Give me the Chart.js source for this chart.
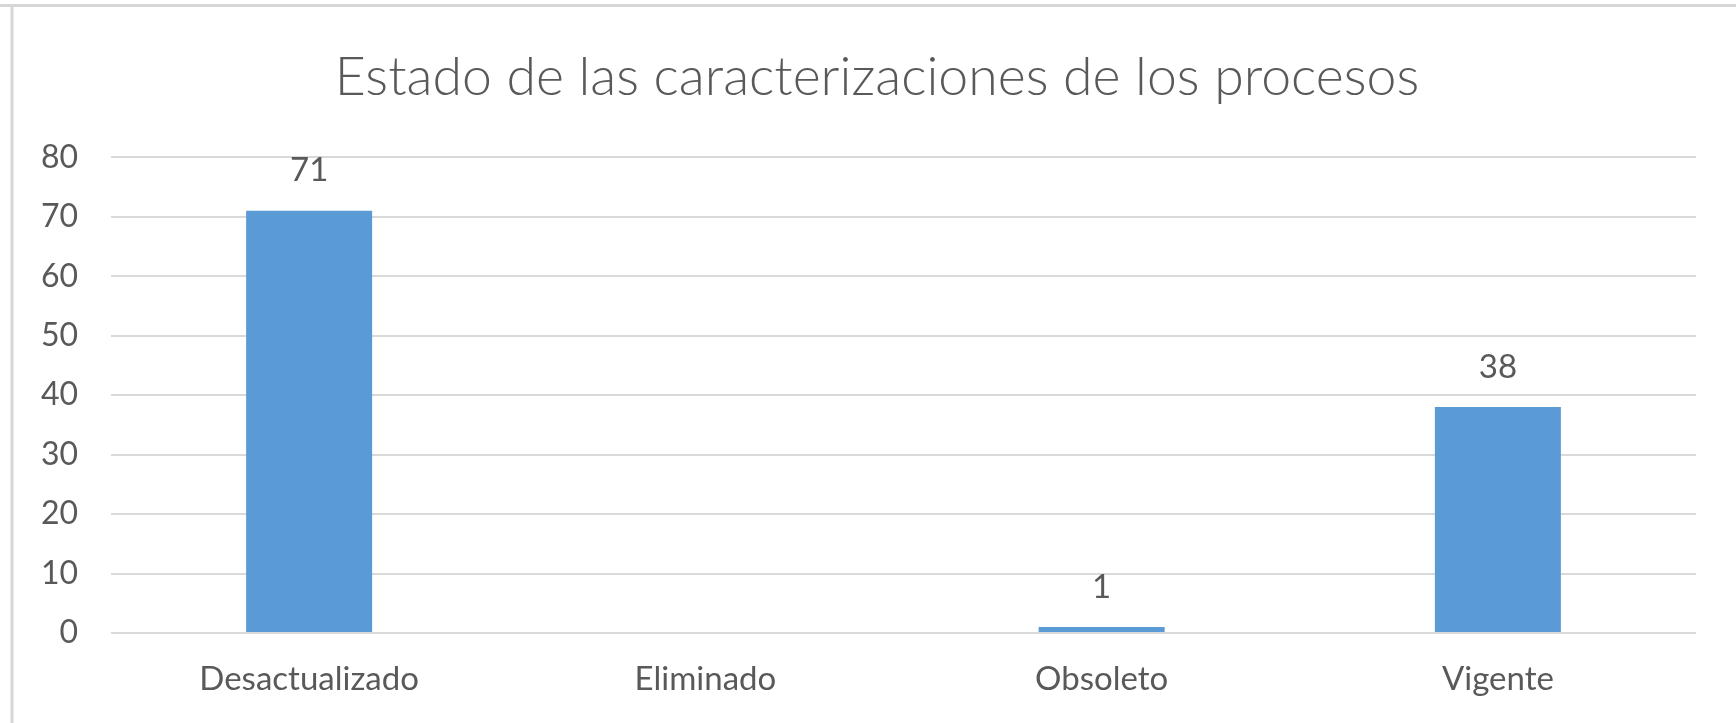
<!DOCTYPE html>
<html>
<head>
<meta charset="utf-8">
<script src="https://cdn.jsdelivr.net/npm/chart.js@4/dist/chart.umd.min.js"></script>
<style>
  html, body { margin: 0; padding: 0; background: #ffffff; }
  #wrap { width: 1736px; height: 723px; position: relative; }
</style>
</head>
<body>
<div id="wrap"><canvas id="c" width="1736" height="723"></canvas></div>
<script>
const categories = ["Desactualizado", "Eliminado", "Obsoleto", "Vigente"];
const values = [71, 0, 1, 38];
const yTicks = [0, 10, 20, 30, 40, 50, 60, 70, 80];
const titleText = "Estado de las caracterizaciones de los procesos";

const FONT = "Lato, 'Open Sans', sans-serif";
const TEXT = "#595959";

const frame = {
  id: 'frame',
  beforeDraw(chart) {
    const ctx = chart.ctx;
    ctx.save();
    ctx.fillStyle = '#ffffff';
    ctx.fillRect(0, 0, chart.width, chart.height);
    ctx.strokeStyle = '#d6d6d6';
    ctx.lineWidth = 3;
    ctx.beginPath();
    ctx.moveTo(0, 5.5); ctx.lineTo(chart.width, 5.5);
    ctx.moveTo(12, 5.5); ctx.lineTo(12, chart.height);
    ctx.stroke();
    ctx.restore();
  }
};

const valueLabels = {
  id: 'valueLabels',
  afterDatasetsDraw(chart) {
    const ctx = chart.ctx;
    const meta = chart.getDatasetMeta(0);
    ctx.save();
    ctx.fillStyle = TEXT;
    ctx.font = "33px " + FONT;
    ctx.textAlign = 'center';
    ctx.textBaseline = 'middle';
    meta.data.forEach((bar, i) => {
      const v = values[i];
      if (!v) return;
      ctx.fillText(String(v), bar.x, bar.y - 40);
    });
    ctx.restore();
  }
};

new Chart(document.getElementById('c'), {
  type: 'bar',
  data: {
    labels: categories,
    datasets: [{
      data: values,
      yAxisID: 'y',
      backgroundColor: '#5B9BD5',
      borderWidth: 0,
      barPercentage: 0.318,
      categoryPercentage: 1.0
    }]
  },
  options: {
    responsive: false,
    animation: false,
    layout: { padding: { left: 18, right: 0, top: 0, bottom: 0 } },
    plugins: {
      legend: { display: false },
      tooltip: { enabled: false },
      title: {
        display: true,
        text: titleText,
        color: TEXT,
        font: { family: FONT, size: 53.6, weight: '300', lineHeight: 1.2 },
        padding: { top: 46, bottom: 47 }
      }
    },
    scales: {
      x: {
        grid: { display: false, drawTicks: false },
        border: { display: false },
        ticks: {
          color: TEXT,
          font: { family: FONT, size: 33 },
          padding: 27,
          maxRotation: 0
        },
        afterFit(scale) { scale.height = 90; }
      },
      y: {
        position: 'left',
        min: 0,
        max: 80,
        afterBuildTicks(scale) { scale.ticks = yTicks.map(v => ({ value: v })); },
        grid: { color: '#d9d9d9', lineWidth: 2, drawTicks: false },
        border: { display: false },
        ticks: {
          color: TEXT,
          font: { family: FONT, size: 32 },
          padding: 33
        },
        afterFit(scale) { scale.width = 93; }
      },
      yRight: {
        position: 'right',
        min: 0,
        max: 80,
        grid: { display: false, drawTicks: false },
        border: { display: false },
        ticks: { display: false },
        afterFit(scale) { scale.width = 40; }
      }
    }
  },
  plugins: [frame, valueLabels]
});
</script>
</body>
</html>
